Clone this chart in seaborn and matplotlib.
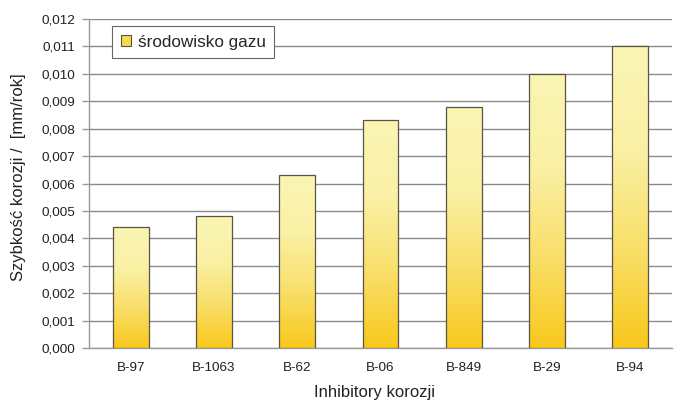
import numpy as np
import pandas as pd
import matplotlib
matplotlib.use("Agg")
import matplotlib.pyplot as plt
from matplotlib.colors import LinearSegmentedColormap
from matplotlib.patches import Rectangle
import seaborn as sns

inhibitors = ["B-97", "B-1063", "B-62", "B-06", "B-849", "B-29", "B-94"]
rates = [0.0044, 0.0048, 0.0063, 0.0083, 0.0088, 0.0100, 0.0110]
series_name = "środowisko gazu"
y_ticks = [i / 1000 for i in range(0, 13)]

sns.set_theme(style="white")
plt.rcParams["font.family"] = ["Liberation Sans", "DejaVu Sans"]

df = pd.DataFrame({"inh": inhibitors, "rate": rates})

fig = plt.figure(figsize=(6.74, 4.05), dpi=100)
ax = fig.add_axes([89 / 674, 1 - 348 / 405, (672 - 89) / 674, (348 - 19) / 405])

sns.barplot(data=df, x="inh", y="rate", ax=ax, width=0.43,
            color="#f9d040", edgecolor="#5a5443", linewidth=0.9, zorder=3)

cmap = LinearSegmentedColormap.from_list(
    "gold", ["#f8c81c", "#f9df6a", "#faf1a6", "#faf5b4"])
grad = np.linspace(0, 1, 256).reshape(-1, 1)

for p in ax.patches:
    x0, y0 = p.get_x(), p.get_y()
    w, h = p.get_width(), p.get_height()
    im = ax.imshow(grad, cmap=cmap, origin="lower", aspect="auto",
                   extent=[x0, x0 + w, y0, y0 + h], zorder=3.5)
    im.set_clip_path(p)
    p.set_facecolor("none")
    p.set_zorder(4)

ax.set_xlim(-0.5, len(inhibitors) - 0.5)
ax.set_ylim(0, 0.012)
ax.set_yticks(y_ticks)
ax.set_yticklabels([f"{v:.3f}".replace(".", ",") for v in y_ticks], fontsize=9.7, color="#222222")
ax.set_xticks(range(len(inhibitors)))
ax.set_xticklabels(inhibitors, fontsize=9.7, color="#222222")

ax.yaxis.grid(True, color="#8a8a8a", linewidth=1.0, zorder=0)
ax.set_axisbelow(True)
for s in ["top", "right"]:
    ax.spines[s].set_visible(False)
ax.spines["left"].set_color("#9a9a9a")
ax.spines["bottom"].set_color("#9a9a9a")
ax.spines["left"].set_linewidth(1.0)
ax.spines["bottom"].set_linewidth(1.0)

# category boundary ticks on x, small outward ticks on y
ax.tick_params(axis="x", which="major", length=0, pad=10)
ax.set_xticks(np.arange(-0.5, len(inhibitors) + 0.5, 1), minor=True)
ax.tick_params(axis="x", which="minor", direction="out", length=5, color="#9a9a9a", width=1)
ax.tick_params(axis="y", direction="out", length=5, color="#9a9a9a", width=1, pad=5)
ax.tick_params(left=True, bottom=True)

ax.set_xlabel("Inhibitory korozji", fontsize=12, color="#222222")
ax.set_ylabel("Szybkość korozji /  [mm/rok]", fontsize=12, color="#222222")
ax.xaxis.set_label_coords(0.49, -45 / 329, transform=ax.transAxes)
ax.yaxis.set_label_coords(-70 / 583, (348 - 177) / 329, transform=ax.transAxes)
ax.xaxis.label.set_va("center")
ax.yaxis.label.set_va("center")

# legend with a single swatch
leg_handle = Rectangle((0, 0), 1, 1, facecolor="#f9d850", edgecolor="#5a5443", linewidth=0.8)
leg = ax.legend([leg_handle], [series_name], loc="upper left",
                bbox_to_anchor=(23 / 583, 1 - 7 / 329), fontsize=12.3,
                frameon=True, fancybox=False, handlelength=0.6, handleheight=0.6,
                handletextpad=0.4, borderpad=0.5, borderaxespad=0)
leg.get_frame().set_edgecolor("#666666")
leg.get_frame().set_linewidth(0.8)
leg.get_frame().set_facecolor("white")
leg.get_frame().set_alpha(1)

fig.savefig("out.png", dpi=100)
